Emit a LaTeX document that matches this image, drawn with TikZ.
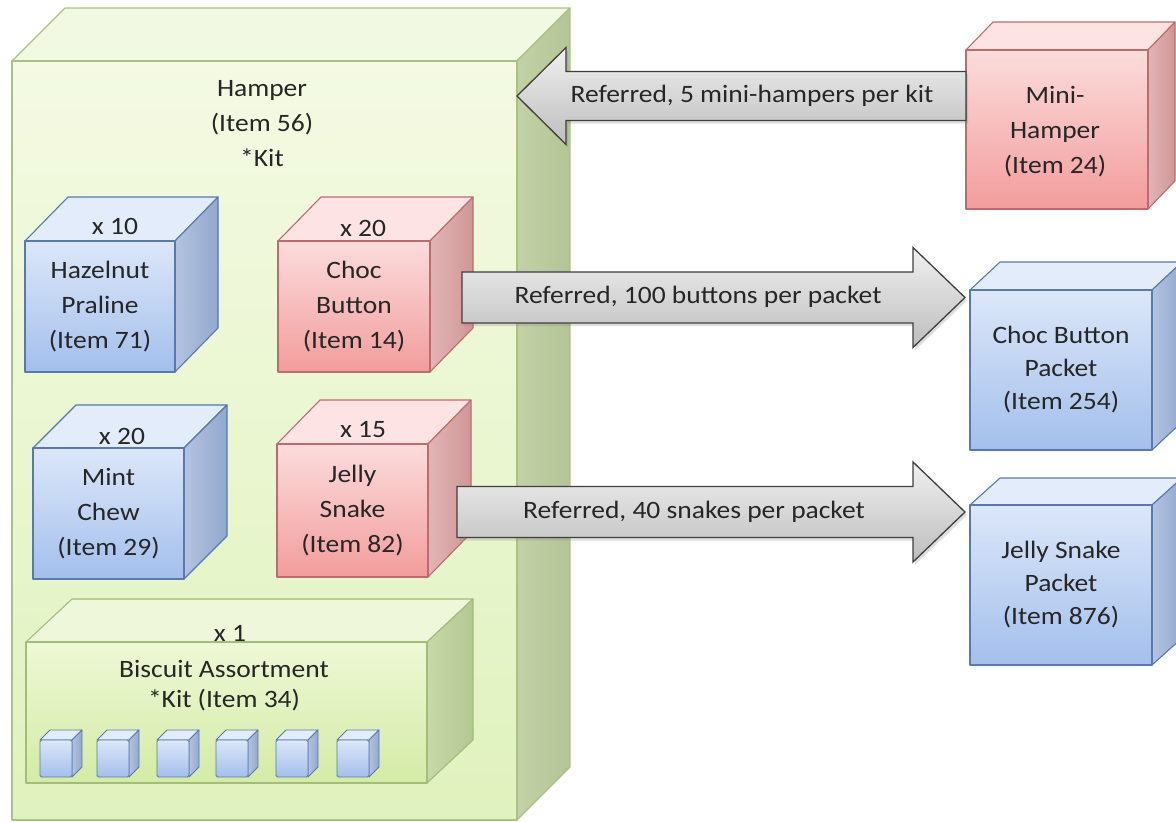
\documentclass[tikz,border=0pt]{standalone}
\usepackage{fontspec}
\setmainfont{Carlito}[FakeStretch=1.1]
\usetikzlibrary{calc,shadows}
\definecolor{txtc}{HTML}{262626}
% blue
\definecolor{bluef1}{HTML}{DCE7F9}
\definecolor{bluef2}{HTML}{A3BFEC}
\definecolor{bluet}{HTML}{E3ECFA}
\definecolor{blues1}{HTML}{B3C3E0}
\definecolor{blues2}{HTML}{93A8CE}
\definecolor{blueline}{HTML}{5878AE}
% red
\definecolor{redf1}{HTML}{FCDCDC}
\definecolor{redf2}{HTML}{F29C9C}
\definecolor{redt}{HTML}{FDE3E3}
\definecolor{reds1}{HTML}{E2B4B4}
\definecolor{reds2}{HTML}{CF9797}
\definecolor{redline}{HTML}{BC6C6C}
% green (hamper)
\definecolor{greenf1}{HTML}{F4FAE3}
\definecolor{greenf2}{HTML}{E0F2BE}
\definecolor{greent}{HTML}{F2F9E3}
\definecolor{greens1}{HTML}{C3D2A6}
\definecolor{greens2}{HTML}{B3C496}
\definecolor{greenline}{HTML}{A9C283}
% lime (biscuit)
\definecolor{limef1}{HTML}{EEF8D6}
\definecolor{limef2}{HTML}{D4EBA6}
\definecolor{limet}{HTML}{EEF7DA}
\definecolor{limes1}{HTML}{C8D8A8}
\definecolor{limes2}{HTML}{B4C894}
\definecolor{limeline}{HTML}{A2BD78}
% arrows
\definecolor{arr1}{HTML}{F0F0F0}
\definecolor{arr2}{HTML}{BDBDBD}
\definecolor{arrline}{HTML}{3F3F3F}

\tikzset{
  facebase/.style={line width=1.1pt, line join=round},
  bluefront/.style={facebase, draw=blueline, top color=bluef1, bottom color=bluef2, inner sep=0pt, outer sep=0pt},
  bluetop/.style={facebase, draw=blueline, fill=bluet},
  blueside/.style={facebase, draw=blueline, left color=blues1, right color=blues2},
  sbluefront/.style={bluefront, line width=0.9pt, rounded corners=1.5pt},
  sbluetop/.style={bluetop, line width=0.9pt},
  sblueside/.style={blueside, line width=0.9pt},
  redfront/.style={facebase, draw=redline, top color=redf1, bottom color=redf2, inner sep=0pt, outer sep=0pt},
  redtop/.style={facebase, draw=redline, fill=redt},
  redside/.style={facebase, draw=redline, left color=reds1, right color=reds2},
  greenfront/.style={facebase, draw=greenline, top color=greenf1, bottom color=greenf2, inner sep=0pt, outer sep=0pt},
  greentop/.style={facebase, draw=greenline, fill=greent},
  greenside/.style={facebase, draw=greenline, left color=greens1, right color=greens2},
  limefront/.style={facebase, draw=limeline, top color=limef1, bottom color=limef2, inner sep=0pt, outer sep=0pt},
  limetop/.style={facebase, draw=limeline, fill=limet},
  limeside/.style={facebase, draw=limeline, left color=limes1, right color=limes2},
  lbl/.style={text=txtc, font=\fontsize{25}{35}\selectfont, align=center, inner sep=0pt},
  blockarrow/.style={draw=arrline, line width=1.3pt, line join=miter, top color=arr1, bottom color=arr2,
    drop shadow={opacity=0.25, shadow xshift=2pt, shadow yshift=-3pt}},
}

% #1 name, #2 x1, #3 y1 (top), #4 x2, #5 y2 (bottom), #6 depth dx, #7 depth dy, #8 palette
\newcommand\drawcube[8]{%
  \pgfmathsetmacro\cubew{#4-(#2)}%
  \pgfmathsetmacro\cubeh{#5-(#3)}%
  \path[#8top] (#2,#3) -- ++(#6,-#7) -- ({#4+#6},{#3-#7}) -- (#4,#3) -- cycle;
  \path[#8side] (#4,#3) -- ({#4+#6},{#3-#7}) -- ({#4+#6},{#5-#7}) -- (#4,#5) -- cycle;
  \node[#8front, anchor=north west, minimum width=\cubew pt, minimum height=\cubeh pt] (#1) at (#2,#3) {};
}
% right-pointing block arrow: #1 tail, #2 tip
\newcommand\rarrow[2]{%
  \path[blockarrow] ($(#1)+(0,-25.5)$) -- ($(#2)+(-52,-25.5)$) -- ($(#2)+(-52,-50)$) -- (#2)
    -- ($(#2)+(-52,50)$) -- ($(#2)+(-52,25.5)$) -- ($(#1)+(0,25.5)$) -- cycle;
}
% left-pointing block arrow: #1 tail, #2 tip
\newcommand\larrow[2]{%
  \path[blockarrow] ($(#1)+(0,-24.5)$) -- ($(#2)+(49,-24.5)$) -- ($(#2)+(49,-48.5)$) -- (#2)
    -- ($(#2)+(49,48.5)$) -- ($(#2)+(49,24.5)$) -- ($(#1)+(0,24.5)$) -- cycle;
}

\begin{document}
\begin{tikzpicture}[x=1pt, y=-1pt]
\useasboundingbox (0,0) rectangle (1176,822);
\clip (0,0) rectangle (1176,822);
\fill[white] (0,0) rectangle (1176,822);

% Hamper
\drawcube{hp}{12}{61}{517}{820}{53}{53}{green}
\node[lbl] (hp-t) at (262,124) {Hamper\\(Item 56)\\*Kit};

% Hazelnut Praline
\drawcube{hz}{25}{241}{175}{372}{43}{44}{blue}
\node[lbl] (hz-q) at (115,226) {x 10};
\node[lbl] (hz-t) at (hz.center) {Hazelnut\\Praline\\(Item 71)};

% Choc Button
\drawcube{cb}{278}{241}{430}{372}{43}{44}{red}
\node[lbl] (cb-q) at (363,228) {x 20};
\node[lbl] (cb-t) at (cb.center) {Choc\\Button\\(Item 14)};

% Mint Chew
\drawcube{mc}{33}{448}{184}{579}{43}{43}{blue}
\node[lbl] (mc-q) at (122,436) {x 20};
\node[lbl] (mc-t) at (mc.center) {Mint\\Chew\\(Item 29)};

% Jelly Snake
\drawcube{js}{277}{444}{428}{577}{43}{44}{red}
\node[lbl] (js-q) at (363,430) {x 15};
\node[lbl] (js-t) at (js.center) {Jelly\\Snake\\(Item 82)};

% Biscuit Assortment
\drawcube{ba}{26}{642}{427}{783}{46}{43}{lime}
\node[lbl] (ba-q) at (230,633) {x 1};
\node[lbl, font=\fontsize{25}{30}\selectfont] (ba-t) at (224,686) {Biscuit Assortment\\*Kit (Item 34)};
\foreach \i/\xx in {1/40,2/97,3/157,4/216,5/276,6/337}{
  \drawcube{sc\i}{\xx}{740}{\xx+32}{777}{10}{10}{sblue}
}

% Outer cubes
\drawcube{mh}{966}{50}{1148}{209}{27}{28}{red}
\node[lbl] (mh-t) at (1055,132) {Mini-\\Hamper\\(Item 24)};

\drawcube{cp}{970}{290}{1152}{450}{30}{28}{blue}
\node[lbl, font=\fontsize{25}{33}\selectfont] (cp-t) at (cp.center) {Choc Button\\Packet\\(Item 254)};

\drawcube{jp}{970}{505}{1152}{665}{30}{27}{blue}
\node[lbl, font=\fontsize{25}{33}\selectfont] (jp-t) at (jp.center) {Jelly Snake\\Packet\\(Item 876)};

% Arrows
\coordinate (a1tip) at (517,96);
\coordinate (a1tail) at (mh.west |- a1tip);
\larrow{a1tail}{a1tip}
\node[lbl] (a1-t) at (752,96) {Referred, 5 mini-hampers per kit};

\coordinate (a2tail) at (462,297.5);
\coordinate (a2tip) at ($(cp.west |- a2tail)+(-5,0)$);
\rarrow{a2tail}{a2tip}
\node[lbl] (a2-t) at (698,297) {Referred, 100 buttons per packet};

\coordinate (a3tail) at (457,512);
\coordinate (a3tip) at ($(jp.west |- a3tail)+(-5,0)$);
\rarrow{a3tail}{a3tip}
\node[lbl] (a3-t) at (694,512) {Referred, 40 snakes per packet};
\end{tikzpicture}
\end{document}
